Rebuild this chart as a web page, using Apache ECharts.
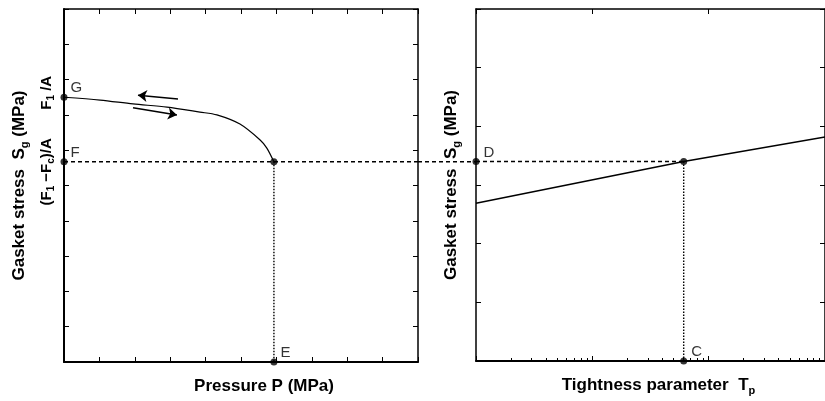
<!DOCTYPE html>
<html>
<head>
<meta charset="utf-8">
<script src="https://cdn.jsdelivr.net/npm/echarts@6/dist/echarts.min.js"></script>
<style>
  html, body { margin: 0; padding: 0; background: #fff; }
  #chart { width: 825px; height: 401px; }
</style>
</head>
<body>
<div id="chart"></div>
<script>
// left panel: gasket stress vs pressure (values in axis units 0..10)
const unloadCurve = [[0, 7.5], [1.02, 7.42], [1.95, 7.31], [2.91, 7.22], [3.84, 7.08], [4.32, 7.0], [4.97, 6.74], [5.54, 6.29], [5.73, 6.06], [5.93, 5.67]];
const arrowBack = [[3.22, 7.45], [2.09, 7.56]];
const arrowFwd = [[1.95, 7.2], [3.19, 7.0]];
const levelG = 7.5;
const levelF = 5.67;
const pressureE = 5.93;
const leftPoints = [['G', 0, levelG], ['F', 0, levelF], ['', pressureE, levelF], ['E', pressureE, 0]];
const leftLevelLabels = ['{p| }{a|F}{b|1}{a| /A}', '{a|(F}{b|1}{a| \u2212F}{b|c}{a|)/A}{q| }'];

// right panel: gasket stress vs tightness parameter (log x)
const tightLine = [[1, 2.69], [61, 3.40], [1000, 3.82]];
const levelD = 3.4;
const tightC = 61;
const rightPoints = [['D', 1, levelD], ['', tightC, levelD], ['C', tightC, 0]];
const minorTp = [2, 3, 4, 5, 6, 7, 8, 9, 20, 30, 40, 50, 60, 70, 80, 90, 200, 300, 400, 500, 600, 700, 800, 900];

const font = 'Liberation Sans';
const nameRich = {
  a: { fontSize: 17, fontWeight: 'bold', fontFamily: font, color: '#000', lineHeight: 22 },
  b: { fontSize: 11, fontWeight: 'bold', fontFamily: font, color: '#000', lineHeight: 11, verticalAlign: 'bottom' }
};

function frame(extra, lw) {
  return Object.assign({
    axisLine: { show: true, onZero: false, lineStyle: { color: '#000', width: lw || 2 } },
    axisTick: { show: true, inside: true, length: 5, lineStyle: { color: '#000', width: 1 } },
    axisLabel: { show: false },
    splitLine: { show: false }
  }, extra);
}

function hidden(extra) {
  return Object.assign({
    axisLine: { show: false }, axisTick: { show: false },
    axisLabel: { show: false }, splitLine: { show: false }
  }, extra);
}

function pointSeries(list, xi, yi, dist) {
  return {
    type: 'scatter', xAxisIndex: xi, yAxisIndex: yi, clip: false,
    symbolSize: 7, itemStyle: { color: '#000' }, z: 5,
    label: {
      show: true, position: 'right', distance: dist, offset: [0, -9],
      formatter: '{b}', fontSize: 15, fontFamily: font, color: '#000'
    },
    data: list.map(p => ({ name: p[0], value: [p[1], p[2]] }))
  };
}

function lineSeries(data, xi, yi, style) {
  return {
    type: 'line', xAxisIndex: xi, yAxisIndex: yi, clip: false,
    symbol: 'none', data: data,
    lineStyle: Object.assign({ color: '#000', width: 1.5 }, style)
  };
}

const chart = echarts.init(document.getElementById('chart'));
chart.setOption({
  animation: false,
  backgroundColor: '#fff',
  grid: [
    { left: 64, top: 9, width: 354, height: 353 },
    { left: 476, top: 9, width: 351, height: 353 },
    { left: 418, top: 9, width: 58, height: 353 }
  ],
  xAxis: [
    frame({
      gridIndex: 0, type: 'value', min: 0, max: 10, interval: 1, position: 'bottom',
      name: '{a|Pressure P (MPa)}', nameLocation: 'middle', nameGap: 13,
      nameTextStyle: { rich: nameRich, padding: [0, 0, 0, 46] }
    }),
    frame({ gridIndex: 0, type: 'value', min: 0, max: 10, interval: 1, position: 'top' }, 1.5),
    frame({
      gridIndex: 1, type: 'log', logBase: 10, min: 1, max: 1000, position: 'bottom',
      name: '{a|Tightness parameter  T}{b|p}', nameLocation: 'middle', nameGap: 13,
      nameTextStyle: { rich: nameRich, padding: [0, 0, 0, 16] }
    }),
    hidden({
      gridIndex: 1, type: 'log', logBase: 10, min: 1, max: 1000, position: 'bottom',
      axisTick: { show: true, inside: true, length: 3, customValues: minorTp, lineStyle: { color: '#000', width: 1 } }
    }),
    frame({ gridIndex: 1, type: 'log', logBase: 10, min: 1, max: 1000, position: 'top' }, 1.5),
    hidden({ gridIndex: 2, type: 'value', min: 0, max: 1 })
  ],
  yAxis: [
    frame({
      gridIndex: 0, type: 'value', min: 0, max: 10, interval: 1, position: 'left',
      name: '{a|Gasket stress  S}{b|g}{a| (MPa)}', nameLocation: 'middle', nameGap: 34,
      nameTextStyle: { rich: nameRich }
    }),
    frame({ gridIndex: 0, type: 'value', min: 0, max: 10, interval: 1, position: 'right' }, 1.5),
    hidden({
      gridIndex: 0, type: 'value', min: 0, max: 10, position: 'left',
      axisLabel: {
        show: true, customValues: [levelG, levelF], rotate: 90, margin: 8,
        formatter: v => (Math.abs(v - levelG) < 0.01 ? leftLevelLabels[0] : leftLevelLabels[1]),
        rich: {
          a: { fontSize: 15, fontWeight: 'bold', fontFamily: font, color: '#000', lineHeight: 19 },
          b: { fontSize: 10, fontWeight: 'bold', fontFamily: font, color: '#000', lineHeight: 10, verticalAlign: 'bottom' },
          p: { width: 9, fontSize: 15 },
          q: { width: 20, fontSize: 15 }
        }
      }
    }),
    frame({
      gridIndex: 1, type: 'value', min: 0, max: 6, interval: 1, position: 'left',
      name: '{a|Gasket stress  S}{b|g}{a| (MPa)}', nameLocation: 'middle', nameGap: 14,
      nameTextStyle: { rich: nameRich }
    }, 1.5),
    frame({ gridIndex: 1, type: 'value', min: 0, max: 6, interval: 1, position: 'right' }, 1.5),
    hidden({ gridIndex: 2, type: 'value', min: 0, max: 10 })
  ],
  series: [
    Object.assign(lineSeries(unloadCurve, 0, 0, { width: 1.2 }), { smooth: 0.3 }),
    lineSeries([[0, levelF], [10, levelF]], 0, 0, { type: [4, 3], width: 1.5 }),
    lineSeries([[pressureE, levelF], [pressureE, 0]], 0, 0, { type: [1.5, 1.5], width: 1.4 }),
    {
      type: 'lines', coordinateSystem: 'cartesian2d', xAxisIndex: 0, yAxisIndex: 0,
      symbol: ['none', 'arrow'], symbolSize: 9,
      lineStyle: { color: '#000', width: 1.5, opacity: 1 },
      data: [{ coords: arrowBack }, { coords: arrowFwd }]
    },
    pointSeries(leftPoints, 0, 0, 3),
    lineSeries([[0, levelF], [1, levelF]], 5, 5, { type: [4, 3], width: 1.5 }),
    lineSeries(tightLine, 2, 3, { width: 1.5 }),
    lineSeries([[1, levelD], [tightC, levelD]], 2, 3, { type: [4, 3], width: 1.5 }),
    lineSeries([[tightC, levelD], [tightC, 0]], 2, 3, { type: [1.5, 1.5], width: 1.4 }),
    pointSeries(rightPoints, 2, 3, 4)
  ]
});
</script>
</body>
</html>
